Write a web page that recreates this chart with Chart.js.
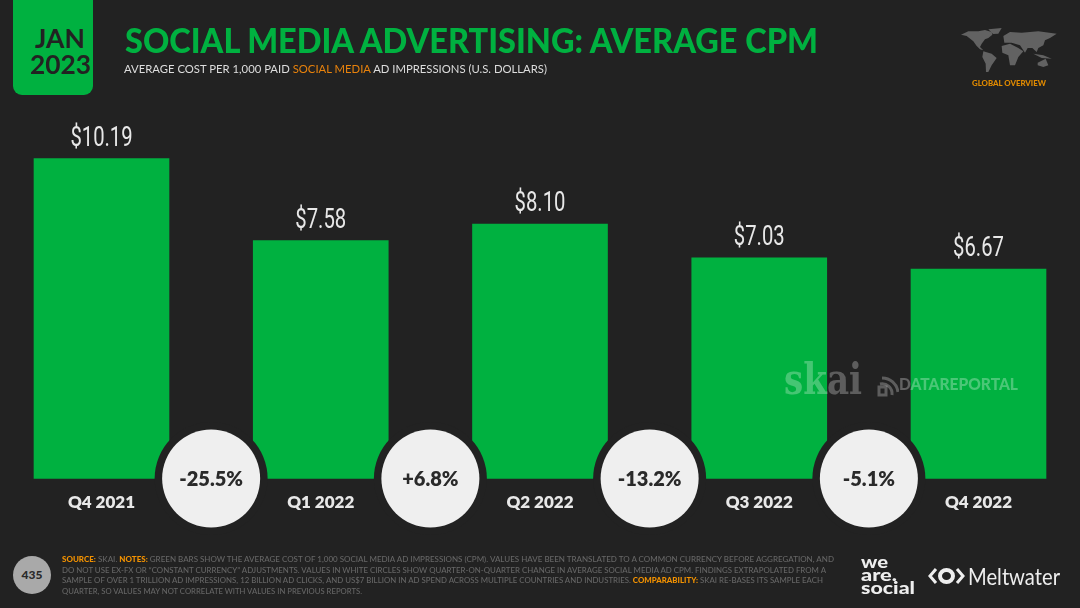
<!DOCTYPE html>
<html><head><meta charset="utf-8">
<script src="https://cdn.jsdelivr.net/npm/chart.js@4"></script>
<style>
html,body{margin:0;padding:0;background:#222222;width:1080px;height:608px;overflow:hidden;font-family:Lato,sans-serif}
#c{position:absolute;left:0;top:0;width:1080px;height:608px}
.t{position:absolute;white-space:nowrap;transform-origin:0 50%;line-height:1}
#tab{position:absolute;left:13px;top:-10px;width:80px;height:105px;background:#00B140;border-radius:9px}
.foot{font-size:8px;color:#666666;font-weight:500}
.foot b{color:#F39200;font-weight:900}
</style></head><body>
<canvas id="c" width="1080" height="608"></canvas>
<div id="tab"></div>
<div class="t" data-w="50" style="left:35px;top:25px;font-size:26px;font-weight:700;color:#222" >JAN</div>
<div class="t" data-w="61" style="left:29.5px;top:51px;font-size:26px;font-weight:700;color:#222">2023</div>
<div class="t" data-w="693" style="left:125px;top:23px;font-size:34px;font-weight:900;color:#00B140">SOCIAL MEDIA ADVERTISING: AVERAGE CPM</div>
<div class="t" data-w="423" style="left:124px;top:63px;font-size:12px;color:#dddddd">AVERAGE COST PER 1,000 PAID <span style="color:#E8820C">SOCIAL MEDIA</span> AD IMPRESSIONS (U.S. DOLLARS)</div>
<svg style="position:absolute;left:955px;top:22px" width="110" height="55" viewBox="0 0 330 165" fill="#626262">
<path d="M18,38 L40,28 L70,28 L90,24 L110,30 L112,38 L100,48 L90,52 L80,65 L75,75 L85,85 L75,82 L65,72 L55,58 L35,42 Z"/>
<path d="M100,22 L140,18 L130,35 L114,36 Z"/>
<path d="M85,88 L110,95 L125,108 L110,130 L100,150 L93,150 L92,125 L82,105 Z"/>
<path d="M145,42 L165,30 L200,32 L250,28 L305,35 L285,48 L270,55 L265,70 L250,78 L245,90 L232,78 L218,78 L210,92 L195,70 L170,62 L148,62 Z"/>
<path d="M140,72 L165,65 L190,78 L205,88 L190,105 L180,130 L165,130 L160,100 L142,92 Z"/>
<path d="M235,95 L265,100 L290,110 L260,108 Z"/>
<path d="M248,122 L272,110 L280,130 L265,135 L248,130 Z"/>
</svg>
<div class="t" data-w="74" style="left:972px;top:79px;font-size:8px;font-weight:900;color:#E08A00">GLOBAL OVERVIEW</div>
<div class="t" style="left:784px;top:359px;font-size:42px;font-weight:700;font-family:'DejaVu Serif',serif;color:rgba(255,255,255,.27)" data-w="78">skai</div>
<svg style="position:absolute;left:877px;top:375px" width="22" height="22" viewBox="0 0 22 22" fill="none" stroke="rgba(255,255,255,.27)" stroke-width="3"><path d="M3,9 A10,10 0 0 1 15,20"/><path d="M5,3 A16,16 0 0 1 21,17"/><rect x="2" y="12" width="7" height="8"/></svg>
<div class="t" data-w="119" style="left:899px;top:376px;font-size:16px;font-weight:900;color:rgba(255,255,255,.29)">DATAREPORTAL</div>
<div class="t foot" data-w="772" style="left:62px;top:554.5px"><b>SOURCE:</b> SKAI. <b>NOTES:</b> GREEN BARS SHOW THE AVERAGE COST OF 1,000 SOCIAL MEDIA AD IMPRESSIONS (CPM). VALUES HAVE BEEN TRANSLATED TO A COMMON CURRENCY BEFORE AGGREGATION, AND</div>
<div class="t foot" data-w="764" style="left:62px;top:565.5px">DO NOT USE EX-FX OR “CONSTANT CURRENCY” ADJUSTMENTS. VALUES IN WHITE CIRCLES SHOW QUARTER-ON-QUARTER CHANGE IN AVERAGE SOCIAL MEDIA AD CPM. FINDINGS EXTRAPOLATED FROM A</div>
<div class="t foot" data-w="761" style="left:62px;top:576px">SAMPLE OF OVER 1 TRILLION AD IMPRESSIONS, 12 BILLION AD CLICKS, AND US$7 BILLION IN AD SPEND ACROSS MULTIPLE COUNTRIES AND INDUSTRIES. <b>COMPARABILITY:</b> SKAI RE-BASES ITS SAMPLE EACH</div>
<div class="t foot" data-w="300" style="left:62px;top:587px">QUARTER, SO VALUES MAY NOT CORRELATE WITH VALUES IN PREVIOUS REPORTS.</div>
<div style="position:absolute;left:13px;top:556px;width:38px;height:38px;border-radius:50%;background:#a9a9a9;color:#2a2a2a;font-size:12px;font-weight:900;text-align:center;line-height:38px">435</div>
<div class="t" data-w="27" style="left:861px;top:553px;font-size:17px;font-weight:900;color:#eeeeee">we</div>
<div class="t" data-w="36" style="left:861px;top:566px;font-size:17px;font-weight:900;color:#eeeeee">are.</div>
<div class="t" data-w="54" style="left:861px;top:579px;font-size:17px;font-weight:900;color:#eeeeee">social</div>
<svg style="position:absolute;left:928px;top:566px" width="37" height="20" viewBox="0 0 37 20" fill="none" stroke="#eeeeee"><path d="M8,3 L2,10 L8,17" stroke-width="3"/><path d="M29,3 L35,10 L29,17" stroke-width="3"/><ellipse cx="18.5" cy="10" rx="6.5" ry="6" stroke-width="4"/></svg>
<div class="t" data-w="92" style="left:968px;top:564px;font-size:24px;font-weight:400;color:#eeeeee">Meltwater</div>
<script>
const categories = ["Q4 2021","Q1 2022","Q2 2022","Q3 2022","Q4 2022"];
const cpmValues = [10.19,7.58,8.10,7.03,6.67];
const valueLabels = ["$10.19","$7.58","$8.10","$7.03","$6.67"];
const changeLabels = ["-25.5%","+6.8%","-13.2%","-5.1%"];

document.querySelectorAll('[data-w]').forEach(e=>{
  const r=e.getBoundingClientRect().width;
  e.style.transform='scaleX('+(parseFloat(e.dataset.w)/r)+')';
});

const overlay = {
  id:'overlay',
  afterDatasetsDraw(chart){
    const {ctx,scales:{x,y}} = chart;
    ctx.save();
    ctx.textAlign='center';ctx.textBaseline='middle';
    valueLabels.forEach((t,i)=>{
      const px=x.getPixelForValue(i), py=y.getPixelForValue(cpmValues[i])-19.5;
      ctx.save();ctx.translate(px,py);ctx.scale(.75,1);
      ctx.font='27px "Liberation Sans Narrow","Roboto",sans-serif';
      ctx.fillStyle='#e8e8e8';ctx.fillText(t,0,0);ctx.restore();
    });
    const base=y.getPixelForValue(0);
    changeLabels.forEach((t,i)=>{
      const px=(x.getPixelForValue(i)+x.getPixelForValue(i+1))/2;
      ctx.beginPath();ctx.arc(px,base,56.5,0,Math.PI*2);ctx.fillStyle='#222222';ctx.fill();
      ctx.beginPath();ctx.arc(px,base,49,0,Math.PI*2);ctx.fillStyle='#EFEFEF';ctx.fill();
      ctx.font='800 20px Lato,sans-serif';ctx.fillStyle='#2a2a2a';ctx.fillText(t,px,base+1);
    });
    ctx.restore();
  }
};

new Chart(document.getElementById('c'),{
  type:'bar',
  data:{labels:categories,datasets:[{data:cpmValues,backgroundColor:'#00B140',borderWidth:0,barThickness:135,clip:false}]},
  options:{
    responsive:false,animation:false,devicePixelRatio:1,
    layout:{padding:{left:101.5,right:101.5,top:101.7,bottom:0}},
    plugins:{legend:{display:false},tooltip:{enabled:false}},
    scales:{
      x:{offset:false,border:{display:false},grid:{display:false,drawTicks:false},
        afterFit(s){s.height=129.5;s.paddingLeft=0;s.paddingRight=0;},
        ticks:{padding:14,maxRotation:0,autoSkip:false,color:'#e8e8e8',font:{family:'Lato',size:17,weight:'800'}}},
      y:{display:false,min:0,max:12}
    }
  },
  plugins:[overlay]
});
</script>
</body></html>
